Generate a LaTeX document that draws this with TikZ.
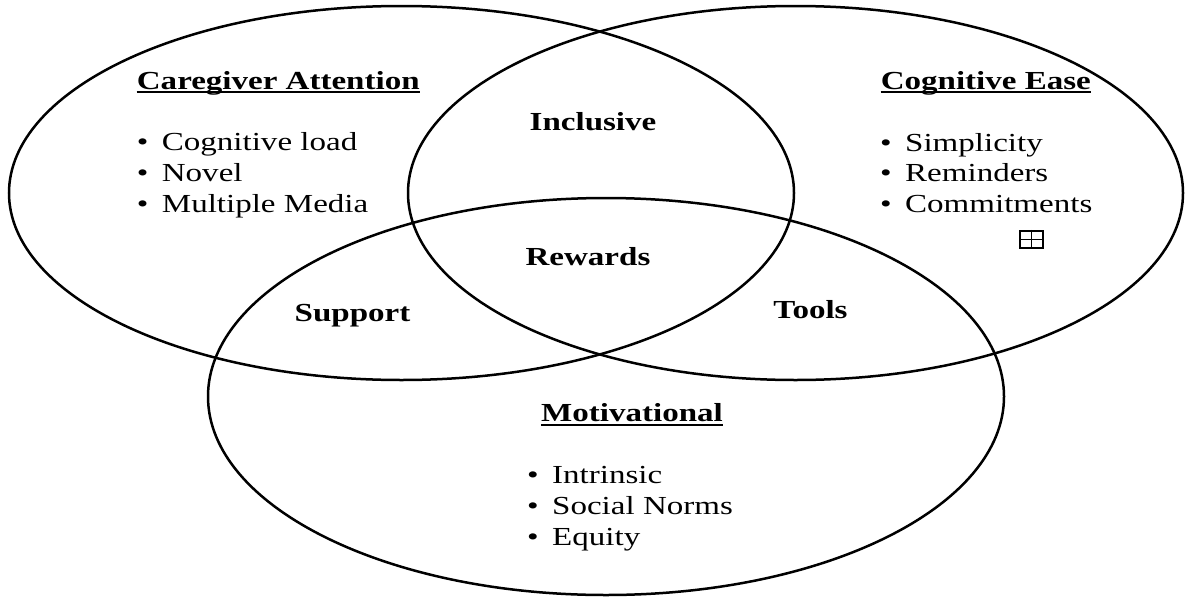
\documentclass[tikz,border=0pt]{standalone}
\usepackage{fontspec}
\setmainfont[FakeStretch=1.27]{Liberation Serif}
\usepackage{tikz}

\tikzset{
	ring/.style={line width=2.5},
	txt/.style={inner sep=0, anchor=base west, font=\fontsize{26}{31}\selectfont},
	head/.style={txt, font=\fontsize{26}{31}\selectfont\bfseries},
	uline/.style={line width=2},
	plusbox/.style={draw, line width=1.8, inner sep=0, minimum width=23, minimum height=17.5},
}
\newcommand{\blt}{\makebox[25pt][l]{\textbullet}}

\begin{document}
\begin{tikzpicture}[x=1pt, y=-1pt]
\useasboundingbox (0,0) rectangle (1185,597);

\draw[ring] (401.5,193) ellipse (392.5 and 187);
\draw[ring] (795.5,193) ellipse (387.5 and 187);
\draw[ring] (606,396.5) ellipse (398 and 198.5);

% headings
\node[head] (care) at (136.7,89) {Caregiver Attention};
\node[head] (ease) at (880.6,89) {Cognitive Ease};
\node[head] (moti) at (541,421.7) {Motivational};
\foreach \h in {care, ease, moti}{
	\draw[uline] ([yshift=-3.2pt]\h.base west) -- ([yshift=-3.2pt]\h.base east);
}

% lists
\foreach \t [count=\i] in {Cognitive load, Novel, Multiple Media}{
	\node[txt] (care\i) at (136.7,{150.7+31*(\i-1)}) {\blt\t};
}
\foreach \t [count=\i] in {Simplicity, Reminders, Commitments}{
	\node[txt] (ease\i) at (880,{151.2+30.5*(\i-1)}) {\blt\t};
}
\foreach \t [count=\i] in {Intrinsic, Social Norms, Equity}{
	\node[txt] (moti\i) at (527,{483.3+31.2*(\i-1)}) {\blt\t};
}

% overlaps
\node[head, anchor=base] (incl) at (593,130) {Inclusive};
\node[head, anchor=base] (rewa) at (588,265) {Rewards};
\node[head, anchor=base] (supp) at (352.5,321.7) {Support};
\node[head, anchor=base] (tool) at (810.5,318.3) {Tools};

\node[plusbox] (more) at (1031.5,239.5) {};
\draw[line width=1.8] (more.north) -- (more.south) (more.west) -- (more.east);

\end{tikzpicture}
\end{document}
